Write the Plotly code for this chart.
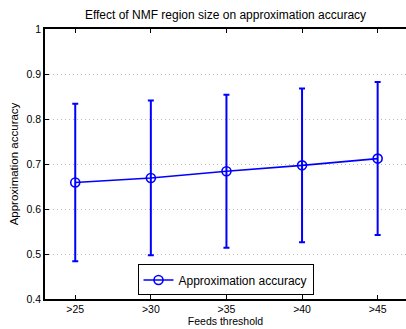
import plotly.graph_objects as go

categories = [">25", ">30", ">35", ">40", ">45"]
accuracy = [0.659, 0.669, 0.684, 0.697, 0.712]
error = [0.175, 0.172, 0.170, 0.171, 0.170]
y_ticks = [0.4, 0.5, 0.6, 0.7, 0.8, 0.9, 1.0]
y_tick_labels = ["0.4", "0.5", "0.6", "0.7", "0.8", "0.9", "1"]

FONT = "Liberation Sans, Arial, sans-serif"
BLUE = "#0000ff"

fig = go.Figure()
fig.add_trace(go.Scatter(
    x=categories, y=accuracy,
    mode="lines+markers",
    name="Approximation accuracy",
    line=dict(color=BLUE, width=1.6),
    marker=dict(symbol="circle-open", size=9, color=BLUE, line=dict(width=1.6, color=BLUE)),
    error_y=dict(type="data", array=error, visible=True, color=BLUE, thickness=2, width=3),
))

fig.update_layout(
    width=406, height=329,
    margin=dict(l=45, r=0, t=29, b=30),
    paper_bgcolor="white", plot_bgcolor="white",
    font=dict(family=FONT, color="black", size=11),
    title=dict(text="Effect of NMF region size on approximation accuracy",
               x=0.5, xref="paper", xanchor="center",
               y=1, yref="paper", yanchor="bottom", pad=dict(b=10),
               font=dict(size=12, family=FONT, color="black")),
    showlegend=True,
    legend=dict(x=0.50, y=0.013, xanchor="center", yanchor="bottom",
                bgcolor="white", bordercolor="black", borderwidth=1,
                font=dict(size=12, family=FONT), itemwidth=30,
                tracegroupgap=0),
    xaxis=dict(
        type="category", range=[-0.4, 4.375],
        showline=True, linecolor="black", linewidth=1.5, mirror="ticks",
        ticks="inside", ticklen=4, tickcolor="black", tickwidth=1,
        showgrid=False, zeroline=False,
        tickfont=dict(size=10.5, family=FONT),
        title=dict(text="Feeds threshold", font=dict(size=10.5, family=FONT), standoff=2),
    ),
    yaxis=dict(
        range=[0.4, 1.0], tickvals=y_ticks, ticktext=y_tick_labels,
        showline=True, linecolor="black", linewidth=1.5, mirror=False,
        ticks="inside", ticklen=4, tickcolor="black", tickwidth=1,
        showgrid=True, gridcolor="#bbbbbb", griddash="1px,3px", gridwidth=1,
        zeroline=False,
        tickfont=dict(size=10.5, family=FONT),
        title=dict(text="Approximation accuracy", font=dict(size=11.5, family=FONT), standoff=6),
    ),
)

fig.write_html("out.html")
